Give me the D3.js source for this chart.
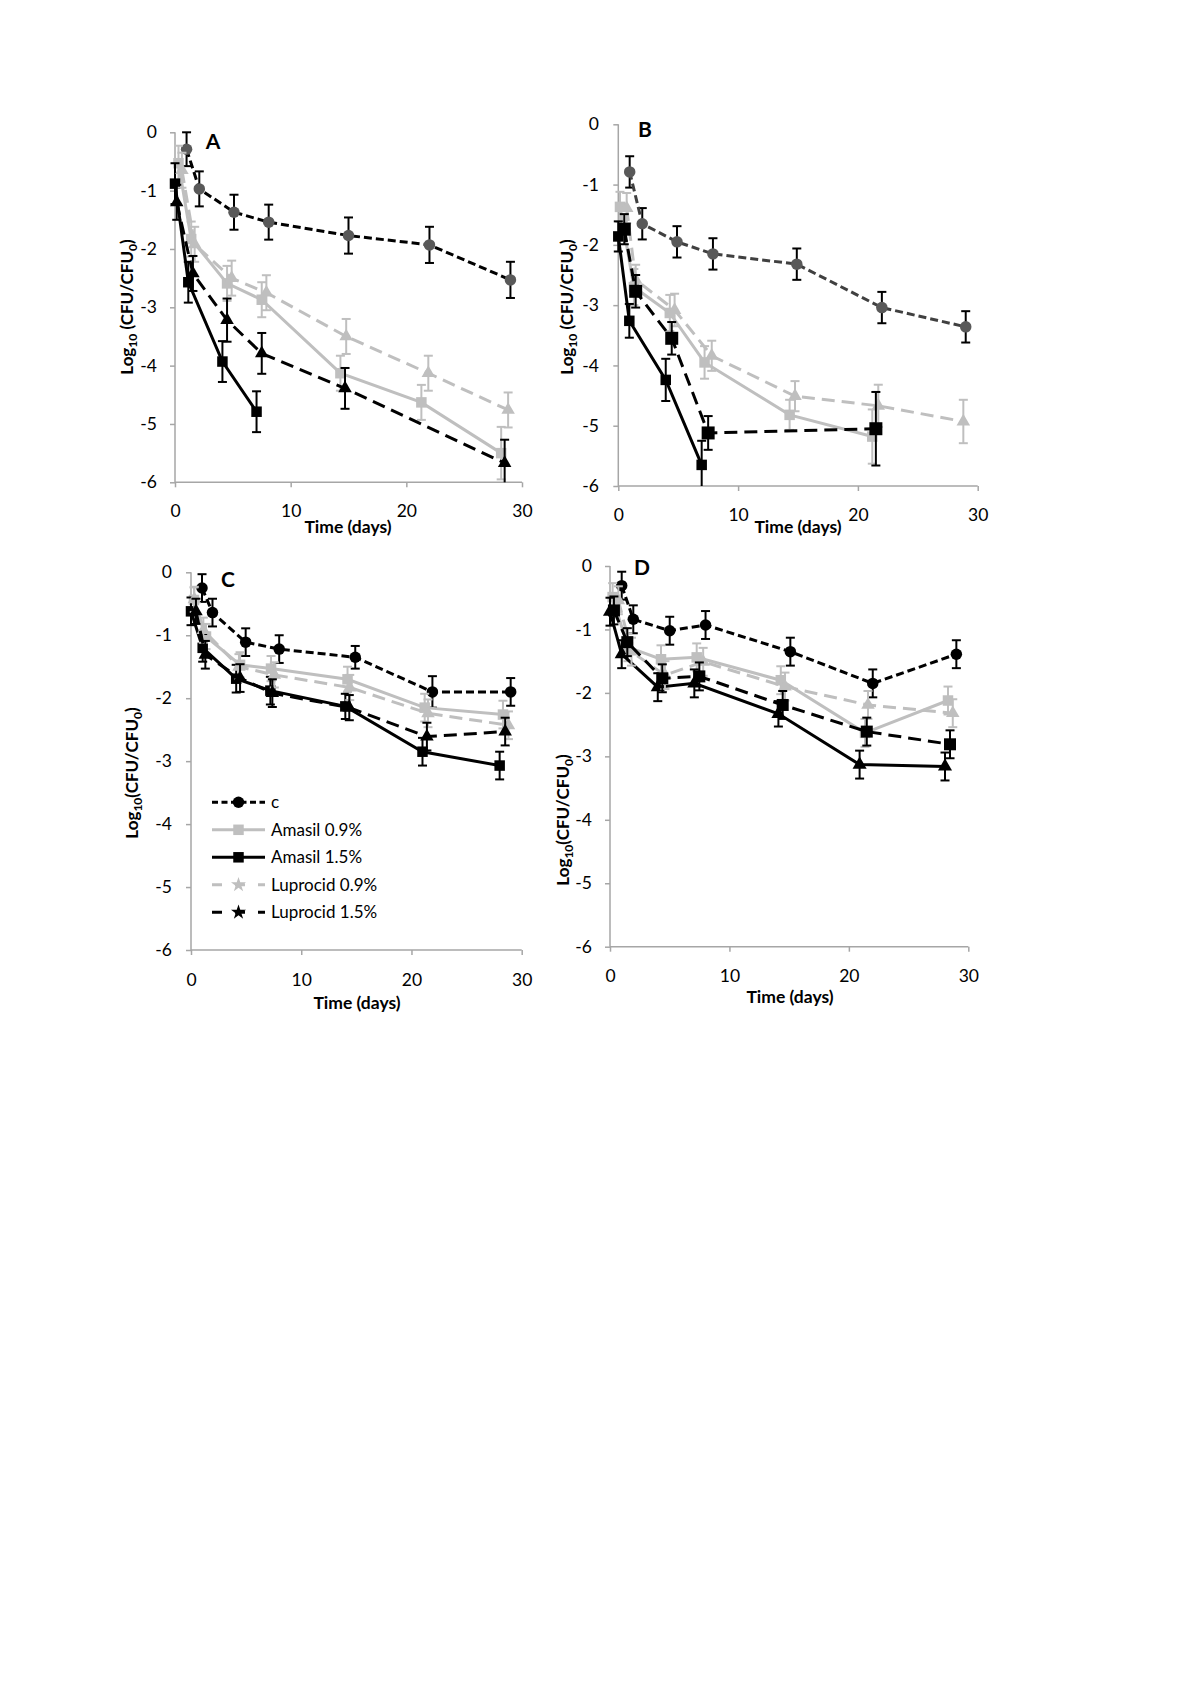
<!DOCTYPE html>
<html><head><meta charset="utf-8">
<script src="https://cdn.jsdelivr.net/npm/d3@7"></script>
<style>body{margin:0;background:#fff}svg{display:block}text{font-family:Lato,"Open Sans",sans-serif}</style>
</head><body>
<script>
// ---------------- DATA ----------------
const seriesNames = ["c", "Amasil 0.9%", "Amasil 1.5%", "Luprocid 0.9%", "Luprocid 1.5%"];
const panelLabels = ["A", "B", "C", "D"];
const xTicks = [0, 10, 20, 30];
const yTicks = [0, -1, -2, -3, -4, -5, -6];

// Panel A
const A_c_x = [1.0, 2.1, 5.1, 8.1, 15.0, 22.0, 29.0];
const A_c_y = [-0.29, -0.97, -1.37, -1.54, -1.77, -1.93, -2.53];
const A_c_e = [0.29, 0.3, 0.3, 0.3, 0.31, 0.31, 0.31];
const A_a09_x = [0.3, 1.4, 4.5, 7.5, 14.3, 21.3, 28.2];
const A_a09_y = [-0.53, -1.83, -2.59, -2.87, -4.13, -4.63, -5.5];
const A_a09_e = [0.3, 0.3, 0.3, 0.3, 0.3, 0.3, 0.45];
const A_a15_x = [0.0, 1.15, 4.1, 7.05];
const A_a15_y = [-0.88, -2.57, -3.93, -4.79];
const A_a15_e = [0.35, 0.35, 0.35, 0.35];
const A_l09_x = [0.6, 1.7, 4.9, 7.9, 14.8, 21.9, 28.8];
const A_l09_y = [-0.65, -1.92, -2.5, -2.75, -3.5, -4.13, -4.76];
const A_l09_e = [0.3, 0.3, 0.3, 0.3, 0.3, 0.3, 0.3];
const A_l15_x = [0.15, 1.55, 4.5, 7.5, 14.7, 28.5];
const A_l15_y = [-1.2, -2.42, -3.22, -3.79, -4.39, -5.67];
const A_l15_e = [0.3, 0.3, 0.37, 0.35, 0.35, 0.4];

// Panel B
const B_c_x = [0.95, 2.0, 4.9, 7.9, 14.9, 22.0, 29.0];
const B_c_y = [-0.79, -1.65, -1.95, -2.15, -2.32, -3.04, -3.36];
const B_c_e = [0.26, 0.26, 0.26, 0.26, 0.26, 0.26, 0.26];
const B_a09_x = [0.14, 1.3, 4.3, 7.2, 14.3, 21.2];
const B_a09_y = [-1.37, -2.7, -3.13, -3.95, -4.82, -5.18];
const B_a09_e = [0.25, 0.3, 0.3, 0.27, 0.25, 0.45];
const B_a15_x = [0.0, 0.92, 3.96, 6.96];
const B_a15_y = [-1.86, -3.26, -4.24, -5.65];
const B_a15_e = [0.25, 0.28, 0.35, 0.4];
const B_l09_x = [0.7, 1.45, 4.7, 7.8, 14.75, 21.7, 28.8];
const B_l09_y = [-1.39, -2.58, -3.08, -3.84, -4.51, -4.67, -4.93];
const B_l09_e = [0.25, 0.25, 0.27, 0.25, 0.25, 0.35, 0.36];
const B_l15_x = [0.5, 1.45, 4.46, 7.5, 21.5];
const B_l15_y = [-1.74, -2.77, -3.55, -5.12, -5.05];
const B_l15_e = [0.25, 0.27, 0.27, 0.28, 0.61];

// Panel C
const C_c_x = [1.0, 1.95, 4.96, 8.0, 14.9, 21.9, 29.0];
const C_c_y = [-0.25, -0.64, -1.11, -1.22, -1.35, -1.9, -1.9];
const C_c_e = [0.22, 0.22, 0.22, 0.22, 0.18, 0.25, 0.22];
const C_a09_x = [0.27, 1.36, 4.45, 7.26, 14.2, 21.2, 28.3];
const C_a09_y = [-0.44, -1.02, -1.47, -1.53, -1.70, -2.15, -2.26];
const C_a09_e = [0.2, 0.2, 0.2, 0.2, 0.2, 0.22, 0.22];
const C_a15_x = [0.0, 1.06, 4.1, 7.2, 14.0, 21.0, 28.0];
const C_a15_y = [-0.62, -1.2, -1.69, -1.88, -2.13, -2.85, -3.07];
const C_a15_e = [0.22, 0.22, 0.22, 0.22, 0.2, 0.22, 0.22];
const C_l09_x = [0.3, 1.12, 4.35, 7.56, 14.4, 21.5, 28.8];
const C_l09_y = [-0.43, -0.92, -1.5, -1.63, -1.83, -2.24, -2.43];
const C_l09_e = [0.2, 0.2, 0.2, 0.2, 0.2, 0.22, 0.22];
const C_l15_x = [0.45, 1.3, 4.45, 7.38, 14.36, 21.4, 28.5];
const C_l15_y = [-0.62, -1.31, -1.68, -1.92, -2.15, -2.61, -2.53];
const C_l15_e = [0.2, 0.22, 0.22, 0.22, 0.2, 0.22, 0.22];

// Panel D
const D_c_x = [0.98, 1.95, 5.0, 8.0, 15.1, 22.0, 29.0];
const D_c_y = [-0.31, -0.84, -1.02, -0.93, -1.35, -1.85, -1.39];
const D_c_e = [0.22, 0.22, 0.22, 0.22, 0.22, 0.22, 0.22];
const D_a09_x = [0.22, 1.5, 4.27, 7.26, 14.3, 21.35, 28.3];
const D_a09_y = [-0.49, -1.28, -1.47, -1.44, -1.8, -2.63, -2.12];
const D_a09_e = [0.22, 0.22, 0.22, 0.22, 0.22, 0.22, 0.22];
const D_a15_x = [0.0, 0.98, 4.0, 7.06, 14.1, 20.9, 28.05];
const D_a15_y = [-0.72, -1.39, -1.91, -1.85, -2.33, -3.13, -3.16];
const D_a15_e = [0.22, 0.22, 0.22, 0.22, 0.2, 0.22, 0.22];
const D_l09_x = [0.7, 1.8, 4.6, 7.8, 14.65, 21.6, 28.7];
const D_l09_y = [-0.54, -1.35, -1.72, -1.51, -1.9, -2.19, -2.32];
const D_l09_e = [0.22, 0.22, 0.22, 0.22, 0.22, 0.22, 0.22];
const D_l15_x = [0.33, 1.45, 4.38, 7.48, 14.46, 21.5, 28.47];
const D_l15_y = [-0.70, -1.2, -1.77, -1.74, -2.19, -2.61, -2.81];
const D_l15_e = [0.22, 0.22, 0.22, 0.22, 0.22, 0.22, 0.22];

// ---------------- STYLES ----------------
const GREY = "#bfbfbf", AXIS = "#a6a6a6";
function styleFor(panel, key) {
  const dark = (panel === "A" || panel === "B");
  const s = {
    c:   {stroke: panel === "B" ? "#404040" : "#000", dash: "8,4", fill: dark ? "#595959" : "#000", marker: "circle", err: "#000", size: 11.5},
    a09: {stroke: GREY, dash: null, fill: GREY, marker: "square", err: GREY, size: 10.5},
    a15: {stroke: "#000", dash: null, fill: "#000", marker: "square", err: "#000", size: 10.5},
    l09: {stroke: GREY, dash: "13,7", fill: GREY, marker: "triangle", err: GREY, size: 12},
    l15: {stroke: "#000", dash: "13,7", fill: "#000", marker: "triangle", err: "#000", size: 12}
  }[key];
  if (panel === "B" && key === "l15") { s.marker = "square"; s.size = 13; }
  if (panel === "D" && key === "a15") { s.marker = "triangle"; s.size = 12.5; }
  if (panel === "D" && key === "l15") { s.marker = "square"; }
  return s;
}

const panels = [
  {id: "A", x0: 175, x1: 522, yTop: 132.3, yBot: 482.3, xlabY: 511, titleX: 348, titleY: 533, ytX: 127, ytY: 307, space: true, letter: [213, 149], ylabX: 157},
  {id: "B", x0: 618.3, x1: 977.7, yTop: 124.3, yBot: 486, xlabY: 515, titleX: 798, titleY: 533, ytX: 567, ytY: 307, space: true, letter: [645, 137], ylabX: 599},
  {id: "C", x0: 191, x1: 521.7, yTop: 572.3, yBot: 950, xlabY: 980, titleX: 357, titleY: 1009, ytX: 132, ytY: 773, space: false, letter: [228, 587], ylabX: 172},
  {id: "D", x0: 610, x1: 968.3, yTop: 566, yBot: 946.7, xlabY: 976, titleX: 790, titleY: 1003, ytX: 563, ytY: 820, space: false, letter: [642, 575], ylabX: 592}
];
const keys = ["c", "a09", "a15", "l09", "l15"];
const dataFor = {
  A: {c: [A_c_x, A_c_y, A_c_e], a09: [A_a09_x, A_a09_y, A_a09_e], a15: [A_a15_x, A_a15_y, A_a15_e], l09: [A_l09_x, A_l09_y, A_l09_e], l15: [A_l15_x, A_l15_y, A_l15_e]},
  B: {c: [B_c_x, B_c_y, B_c_e], a09: [B_a09_x, B_a09_y, B_a09_e], a15: [B_a15_x, B_a15_y, B_a15_e], l09: [B_l09_x, B_l09_y, B_l09_e], l15: [B_l15_x, B_l15_y, B_l15_e]},
  C: {c: [C_c_x, C_c_y, C_c_e], a09: [C_a09_x, C_a09_y, C_a09_e], a15: [C_a15_x, C_a15_y, C_a15_e], l09: [C_l09_x, C_l09_y, C_l09_e], l15: [C_l15_x, C_l15_y, C_l15_e]},
  D: {c: [D_c_x, D_c_y, D_c_e], a09: [D_a09_x, D_a09_y, D_a09_e], a15: [D_a15_x, D_a15_y, D_a15_e], l09: [D_l09_x, D_l09_y, D_l09_e], l15: [D_l15_x, D_l15_y, D_l15_e]}
};

const svg = d3.select("body").append("svg").attr("width", 1200).attr("height", 1698);
svg.append("rect").attr("width", 1200).attr("height", 1698).attr("fill", "#fff");

function markerPath(type, size) {
  const sym = type === "circle" ? d3.symbolCircle : type === "square" ? d3.symbolSquare : d3.symbolTriangle;
  const area = type === "circle" ? Math.PI * (size / 2) ** 2 : type === "square" ? size * size : size * size * 0.55;
  return d3.symbol(sym, area)();
}

panels.forEach(p => {
  const x = d3.scaleLinear().domain([0, 30]).range([p.x0, p.x1]);
  const y = d3.scaleLinear().domain([-6, 0]).range([p.yBot, p.yTop]);
  const g = svg.append("g");

  // axes
  const ya = g.append("g").attr("transform", `translate(${p.x0},0)`)
    .call(d3.axisLeft(y).tickValues(yTicks).tickSize(5).tickFormat(d => String(d)));
  const xa = g.append("g").attr("transform", `translate(0,${p.yBot})`)
    .call(d3.axisBottom(x).tickValues(xTicks).tickSize(5).tickFormat(d => String(d)));
  [ya, xa].forEach(a => {
    a.select(".domain").attr("stroke", AXIS).attr("stroke-width", 1.5);
    a.selectAll(".tick line").attr("stroke", AXIS).attr("stroke-width", 1.5);
    a.selectAll(".tick text").attr("fill", "#000").attr("font-size", 17.5).style("font-family", "Lato,'Open Sans',sans-serif");
  });
  ya.select(".domain").attr("d", `M0,${p.yTop}V${p.yBot}`);
  xa.select(".domain").attr("d", `M${p.x0},0H${p.x1}`);
  ya.selectAll(".tick text").attr("x", -(p.x0 - p.ylabX)).attr("text-anchor", "end");
  xa.selectAll(".tick text").attr("y", p.xlabY - p.yBot).attr("dy", "0.35em");

  // titles
  g.append("text").attr("x", p.titleX).attr("y", p.titleY).attr("text-anchor", "middle")
    .attr("font-size", 17.5).attr("font-weight", "bold").text("Time (days)");
  const yt = g.append("text").attr("transform", `translate(${p.ytX},${p.ytY}) rotate(-90)`)
    .attr("text-anchor", "middle").attr("dy", "0.35em").attr("font-size", 17).attr("font-weight", "bold");
  yt.append("tspan").text("Log");
  yt.append("tspan").attr("font-size", 12).attr("dy", 4).text("10");
  yt.append("tspan").attr("dy", -4).text((p.space ? " " : "") + "(CFU/CFU");
  yt.append("tspan").attr("font-size", 12).attr("dy", 4).text("0");
  yt.append("tspan").attr("dy", -4).text(")");
  g.append("text").attr("x", p.letter[0]).attr("y", p.letter[1]).attr("text-anchor", "middle")
    .attr("font-size", 21).attr("font-weight", "bold").text(p.id);

  // series
  keys.forEach(k => {
    const [xs, ys, es] = dataFor[p.id][k];
    const st = styleFor(p.id, k);
    const pts = xs.map((d, i) => ({x: d, y: ys[i], e: es[i]}));
    const sg = g.append("g");
    // error bars
    pts.forEach(d => {
      const lo = Math.max(-6, d.y - d.e), hi = d.y + d.e;
      sg.append("line").attr("x1", x(d.x)).attr("x2", x(d.x)).attr("y1", y(hi)).attr("y2", y(lo))
        .attr("stroke", st.err).attr("stroke-width", 2);
      sg.append("line").attr("x1", x(d.x) - 4.5).attr("x2", x(d.x) + 4.5).attr("y1", y(hi)).attr("y2", y(hi))
        .attr("stroke", st.err).attr("stroke-width", 2);
      if (d.y - d.e >= -6)
        sg.append("line").attr("x1", x(d.x) - 4.5).attr("x2", x(d.x) + 4.5).attr("y1", y(lo)).attr("y2", y(lo))
          .attr("stroke", st.err).attr("stroke-width", 2);
    });
    sg.append("path").datum(pts)
      .attr("d", d3.line().x(d => x(d.x)).y(d => y(d.y)))
      .attr("fill", "none").attr("stroke", st.stroke).attr("stroke-width", 3)
      .attr("stroke-dasharray", st.dash);
    sg.selectAll(".m").data(pts).join("path")
      .attr("transform", d => `translate(${x(d.x)},${y(d.y)})`)
      .attr("d", markerPath(st.marker, st.size)).attr("fill", st.fill);
  });
});

// legend in panel C
const legY0 = 802.3, legStep = 27.5;
keys.forEach((k, i) => {
  const st = styleFor("C", k);
  const yy = legY0 + i * legStep;
  const lg = svg.append("g");
  lg.append("line").attr("x1", 212).attr("x2", 265).attr("y1", yy).attr("y2", yy)
    .attr("stroke", st.stroke).attr("stroke-width", 3)
    .attr("stroke-dasharray", k === "c" ? "6,3.5" : (st.dash ? "10,13" : null));
  if (k === "l09" || k === "l15") {
    lg.append("path").attr("transform", `translate(238.5,${yy})`)
      .attr("d", d3.symbol(d3.symbolStar, 70)()).attr("fill", st.fill);
  } else {
    lg.append("path").attr("transform", `translate(238.5,${yy})`).attr("d", markerPath(st.marker, st.size)).attr("fill", st.fill);
  }
  lg.append("text").attr("x", 271).attr("y", yy).attr("dy", "0.35em").attr("font-size", 17).text(seriesNames[i]);
});
</script>
</body></html>
